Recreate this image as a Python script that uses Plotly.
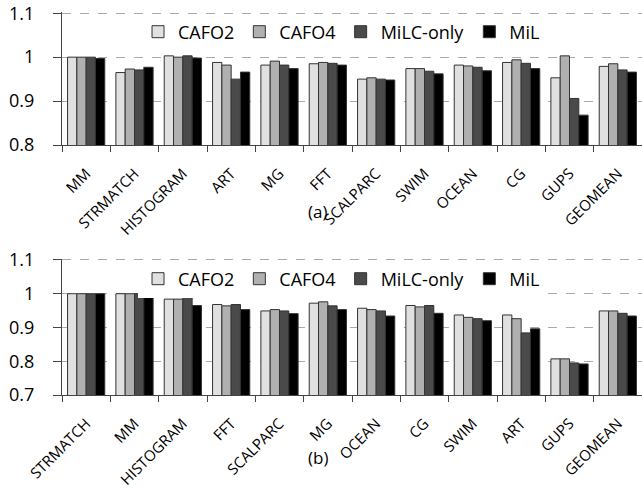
import plotly.graph_objects as go

series = ["CAFO2", "CAFO4", "MiLC-only", "MiL"]
colors = ["#e0e0e0", "#b0b0b0", "#4a4a4a", "#000000"]

cats_a = ["MM", "STRMATCH", "HISTOGRAM", "ART", "MG", "FFT", "SCALPARC", "SWIM", "OCEAN", "CG", "GUPS", "GEOMEAN"]
a_cafo2 = [1.000, 0.965, 1.003, 0.988, 0.982, 0.985, 0.950, 0.974, 0.982, 0.988, 0.953, 0.979]
a_cafo4 = [1.000, 0.973, 1.000, 0.982, 0.991, 0.988, 0.953, 0.974, 0.980, 0.994, 1.003, 0.985]
a_milc = [1.000, 0.971, 1.003, 0.950, 0.982, 0.986, 0.950, 0.968, 0.977, 0.986, 0.906, 0.971]
a_mil = [0.997, 0.977, 0.998, 0.966, 0.974, 0.982, 0.948, 0.962, 0.969, 0.974, 0.868, 0.966]

cats_b = ["STRMATCH", "MM", "HISTOGRAM", "FFT", "SCALPARC", "MG", "OCEAN", "CG", "SWIM", "ART", "GUPS", "GEOMEAN"]
b_cafo2 = [1.000, 1.000, 0.984, 0.968, 0.949, 0.972, 0.957, 0.965, 0.937, 0.937, 0.807, 0.949]
b_cafo4 = [1.000, 1.000, 0.984, 0.964, 0.953, 0.976, 0.953, 0.961, 0.930, 0.926, 0.807, 0.949]
b_milc = [1.000, 1.000, 0.996, 0.968, 0.949, 0.964, 0.949, 0.965, 0.926, 0.884, 0.795, 0.942]
b_mil = [1.000, 0.996, 0.965, 0.953, 0.941, 0.953, 0.934, 0.942, 0.920, 0.896, 0.792, 0.934]

ticks_a = [0.8, 0.9, 1.0, 1.1]
ticks_b = [0.7, 0.8, 0.9, 1.0, 1.1]
tick_text_a = ["0.8", "0.9", "1", "1.1"]
tick_text_b = ["0.7", "0.8", "0.9", "1", "1.1"]

FONT = "'Open Sans', 'Liberation Sans', sans-serif"

fig = go.Figure()
for name, col, vals in zip(series, colors, [a_cafo2, a_cafo4, a_milc, a_mil]):
    fig.add_trace(go.Bar(x=cats_a, y=vals, name=name, marker=dict(color=col, line=dict(color="#333333", width=1)),
                         xaxis="x", yaxis="y", legend="legend"))
for name, col, vals in zip(series, colors, [b_cafo2, b_cafo4, b_milc, b_mil]):
    fig.add_trace(go.Bar(x=cats_b, y=vals, name=name, marker=dict(color=col, line=dict(color="#333333", width=1)),
                         xaxis="x2", yaxis="y2", legend="legend2"))

xcommon = dict(domain=[62 / 642, 1.0], tickangle=-45, tickfont=dict(family=FONT, size=15, color="#000"),
               ticks="outside", tickson="boundaries", ticklen=6, tickcolor="#444",
               showline=True, linecolor="#444", linewidth=1, showgrid=False, automargin=False,
               ticklabelstandoff=13)
ycommon = dict(tickfont=dict(family=FONT, size=18, color="#000"), ticks="outside", ticklen=8, tickcolor="#444",
               showline=True, linecolor="#444", linewidth=1, showgrid=True, gridcolor="#aaaaaa",
               griddash="dash", gridwidth=1, zeroline=False, automargin=False, ticklabelstandoff=15,
               ticklabeloverflow="allow")

fig.update_layout(
    template="none",
    width=642, height=492,
    margin=dict(l=0, r=0, t=0, b=0, autoexpand=False),
    paper_bgcolor="white", plot_bgcolor="white",
    barmode="group", bargap=0.23, bargroupgap=0,
    font=dict(family=FONT, color="#000"),
    xaxis=dict(xcommon, anchor="y"),
    yaxis=dict(ycommon, domain=[1 - 145 / 492, 1 - 11.5 / 492], range=[0.8, 1.104], tickvals=ticks_a,
               ticktext=tick_text_a, anchor="x"),
    xaxis2=dict(xcommon, anchor="y2"),
    yaxis2=dict(ycommon, domain=[1 - 395 / 492, 1 - 258.6 / 492], range=[0.7, 1.104], tickvals=ticks_b,
                ticktext=tick_text_b, anchor="x2"),
    legend=dict(orientation="h", x=0.215, y=1 - 32 / 492, xanchor="left", yanchor="middle",
                font=dict(family=FONT, size=18), bgcolor="rgba(255,255,255,1)", itemwidth=30,
                traceorder="normal"),
    legend2=dict(orientation="h", x=0.215, y=1 - 279 / 492, xanchor="left", yanchor="middle",
                 font=dict(family=FONT, size=18), bgcolor="rgba(255,255,255,1)", itemwidth=30,
                 traceorder="normal"),
    annotations=[
        dict(text="(a)", x=0.495, y=1 - 211 / 492, xref="paper", yref="paper", showarrow=False,
             font=dict(family=FONT, size=17)),
        dict(text="(b)", x=0.495, y=1 - 471 / 492, xref="paper", yref="paper", showarrow=False,
             font=dict(family=FONT, size=17)),
    ],
)

fig.write_html("out.html", config={"displayModeBar": False},
               post_script="document.body.style.margin='0';")
